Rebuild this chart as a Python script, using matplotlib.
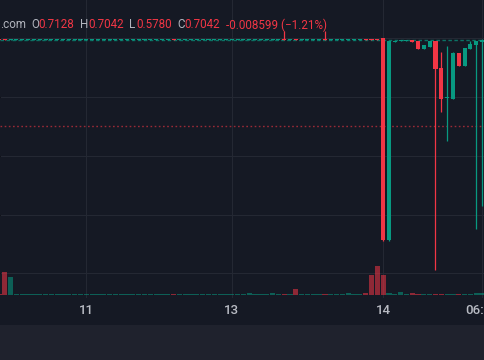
import matplotlib
matplotlib.use("Agg")
import matplotlib.pyplot as plt
from matplotlib.patches import Rectangle

plt.rcParams['lines.scale_dashes'] = False

# ---------------- data ----------------
opens = [
    0.7051, 0.7051, 0.7044, 0.7044, 0.7044, 0.7044, 0.7044, 0.7044, 0.7044, 0.7044,
    0.7044, 0.7044, 0.7044, 0.7044, 0.7044, 0.7044, 0.7044, 0.7044, 0.7044, 0.7044,
    0.7044, 0.7044, 0.7044, 0.7044, 0.7044, 0.7044, 0.7044, 0.7044, 0.7044, 0.7044,
    0.7051, 0.7044, 0.7044, 0.7044, 0.7044, 0.7044, 0.7044, 0.7044, 0.7044, 0.7044,
    0.7044, 0.7044, 0.7044, 0.7044, 0.7044, 0.7044, 0.7044, 0.7044, 0.7044, 0.7051,
    0.7044, 0.7051, 0.7044, 0.7044, 0.7044, 0.7044, 0.7051, 0.7044, 0.7044, 0.7044,
    0.7044, 0.7044, 0.7044, 0.7051, 0.7051, 0.7051,
    0.7055, 0.5522, 0.7024, 0.7033, 0.7036, 0.7042, 0.7034, 0.6974, 0.6991, 0.7034,
    0.6829, 0.6598, 0.6596, 0.6945, 0.6847, 0.6976, 0.7006, 0.7029,
]
closes = [
    0.7044, 0.7044, 0.7051, 0.7051, 0.7051, 0.7051, 0.7051, 0.7051, 0.7051, 0.7051,
    0.7051, 0.7051, 0.7051, 0.7051, 0.7051, 0.7051, 0.7051, 0.7051, 0.7051, 0.7051,
    0.7051, 0.7051, 0.7051, 0.7051, 0.7051, 0.7051, 0.7051, 0.7051, 0.7051, 0.7051,
    0.7044, 0.7051, 0.7051, 0.7051, 0.7051, 0.7051, 0.7051, 0.7051, 0.7051, 0.7051,
    0.7051, 0.7051, 0.7051, 0.7051, 0.7051, 0.7051, 0.7051, 0.7051, 0.7051, 0.7044,
    0.7051, 0.7044, 0.7051, 0.7051, 0.7051, 0.7051, 0.7044, 0.7051, 0.7051, 0.7051,
    0.7051, 0.7051, 0.7051, 0.7044, 0.7044, 0.7044,
    0.5522, 0.7034, 0.7031, 0.7039, 0.7042, 0.7029, 0.6974, 0.7004, 0.7034, 0.6822,
    0.6594, 0.6605, 0.6945, 0.6847, 0.6981, 0.7012, 0.7034, 0.7044,
]
highs = [
    0.7051, 0.7051, 0.7051, 0.7051, 0.7051, 0.7051, 0.7051, 0.7051, 0.7051, 0.7051,
    0.7051, 0.7051, 0.7051, 0.7051, 0.7051, 0.7051, 0.7051, 0.7051, 0.7051, 0.7051,
    0.7051, 0.7051, 0.7051, 0.7051, 0.7051, 0.7051, 0.7051, 0.7051, 0.7051, 0.7051,
    0.7051, 0.7051, 0.7051, 0.7051, 0.7051, 0.7051, 0.7051, 0.7051, 0.7051, 0.7051,
    0.7051, 0.7051, 0.7051, 0.7051, 0.7051, 0.7051, 0.7051, 0.7051, 0.7051, 0.7110,
    0.7051, 0.7051, 0.7051, 0.7051, 0.7051, 0.7051, 0.7110, 0.7051, 0.7051, 0.7051,
    0.7051, 0.7051, 0.7051, 0.7051, 0.7051, 0.7051,
    0.7057, 0.7034, 0.7031, 0.7039, 0.7042, 0.7042, 0.7034, 0.7004, 0.7034, 0.7034,
    0.6951, 0.6996, 0.6951, 0.6945, 0.6981, 0.7034, 0.7034, 0.7050,
]
lows = [
    0.7044, 0.7044, 0.7044, 0.7044, 0.7044, 0.7044, 0.7044, 0.7044, 0.7044, 0.7044,
    0.7044, 0.7044, 0.7044, 0.7044, 0.7044, 0.7044, 0.7044, 0.7044, 0.7044, 0.7044,
    0.7044, 0.7044, 0.7044, 0.7044, 0.7044, 0.7044, 0.7044, 0.7044, 0.7044, 0.7044,
    0.7044, 0.7044, 0.7044, 0.7044, 0.7044, 0.7044, 0.7044, 0.7044, 0.7044, 0.7044,
    0.7044, 0.7044, 0.7044, 0.7044, 0.7044, 0.7044, 0.7044, 0.7044, 0.7044, 0.7044,
    0.7044, 0.7044, 0.7044, 0.7044, 0.7044, 0.7044, 0.7044, 0.7044, 0.7044, 0.7044,
    0.7044, 0.7044, 0.7044, 0.7044, 0.7044, 0.7044,
    0.5515, 0.5515, 0.7024, 0.7033, 0.7036, 0.7029, 0.6974, 0.6974, 0.6991, 0.5294,
    0.6495, 0.6274, 0.6596, 0.6847, 0.6847, 0.6976, 0.5606, 0.5780,
]
volumes = [
    1, 23, 18, 1, 1, 1, 1, 1, 1, 1,
    1, 1, 1, 1, 1, 1, 1, 1, 1, 1,
    1, 1, 1, 1, 1, 1, 1, 1, 1, 1,
    1, 1, 1, 1, 1, 1, 1, 1, 1, 1,
    1, 1, 1, 2, 1, 1, 1, 2, 1, 1,
    1, 6, 1, 1, 1, 1, 1, 1, 1, 1,
    2, 1, 1, 2, 20, 29,
    20, 2, 1, 3, 1, 2.5, 1, 1, 1, 1.5,
    1, 1, 1, 1, 1, 1, 2, 2.5,
]
tick_pos = [15, 40, 66, 83]
tick_labels = ["11", "13", "14", "06:00"]
grid_prices = [0.7057, 0.6609, 0.6160, 0.5712, 0.5271]
prev_line = 0.6388
last_price = 0.7044

header = [(".com", "#b2b5be", 0), ("O", "#b2b5be", 31), ("0.7128", "#f23645", 38),
          ("H", "#b2b5be", 80.5), ("0.7042", "#f23645", 88), ("L", "#b2b5be", 129.5),
          ("0.5780", "#f23645", 136.5), ("C", "#b2b5be", 177), ("0.7042", "#f23645", 184.5),
          ("-0.008599 (\u22121.21%)", "#f23645", 226.5)]

# ---------------- style ----------------
BG = "#151924"
BAND = "#1f222d"
UP = "#089981"
DOWN = "#f23645"
GRID = "#242833"
W, H = 485, 360

fig = plt.figure(figsize=(W / 100, H / 100), dpi=100, facecolor=BG)
fig.patches.append(Rectangle((0, 0), 1, 35 / H, transform=fig.transFigure,
                             facecolor=BAND, edgecolor="none", zorder=0))

ax = fig.add_axes([0, (H - 298) / H, 1, 298 / H])
ax.set_facecolor(BG)
for s in ax.spines.values():
    s.set_visible(False)

px_per_idx = 5.82
ax.set_xlim(1 / px_per_idx, (W + 1) / px_per_idx)
ax.set_ylim(0.7042 - 258 * 0.00076, 0.7042 + 40 * 0.00076)

ax.set_yticks(grid_prices)
ax.set_xticks(tick_pos)
ax.set_xticklabels(tick_labels)
ax.tick_params(axis="y", left=False, labelleft=False)
ax.tick_params(axis="x", length=0, pad=4.0, colors="#b8bbc3", labelsize=9.5)
for lab in ax.get_xticklabels():
    lab.set_fontfamily(["Roboto", "DejaVu Sans"])
    lab.set_fontweight("medium")
ax.grid(True, color=GRID, linewidth=0.8)
ax.set_axisbelow(True)

n = len(opens)
idx = list(range(n))
colors = [UP if c >= o else DOWN for o, c in zip(opens, closes)]
min_body = 0.00085
bottoms = [min(o, c) for o, c in zip(opens, closes)]
heights = [max(abs(c - o), min_body) for o, c in zip(opens, closes)]

# volume
ax2 = ax.twinx()
ax2.set_ylim(-3, 295)
ax2.set_axis_off()
ax2.bar(idx, volumes, width=0.9, color=colors, alpha=0.55, linewidth=0, zorder=1)

# price lines
ax.axhline(prev_line, color=DOWN, alpha=0.6, linewidth=1, linestyle=(0, (1.2, 1.8)), zorder=2)
ax.axhline(last_price, color=UP, alpha=0.7, linewidth=1, linestyle=(0, (2.5, 1.8)), zorder=2)

# candles
ax.vlines(idx, lows, highs, colors=colors, linewidth=0.9, zorder=3)
ax.bar(idx, heights, bottom=bottoms, width=0.7, color=colors, linewidth=0, zorder=4)

for txt, col, xp in header:
    fig.text(xp / W, 1 - 25 / H, txt, color=col, fontsize=8.4, va="center", ha="left",
             family=["Roboto", "DejaVu Sans"])

fig.savefig("out.png", dpi=100, facecolor=BG)
